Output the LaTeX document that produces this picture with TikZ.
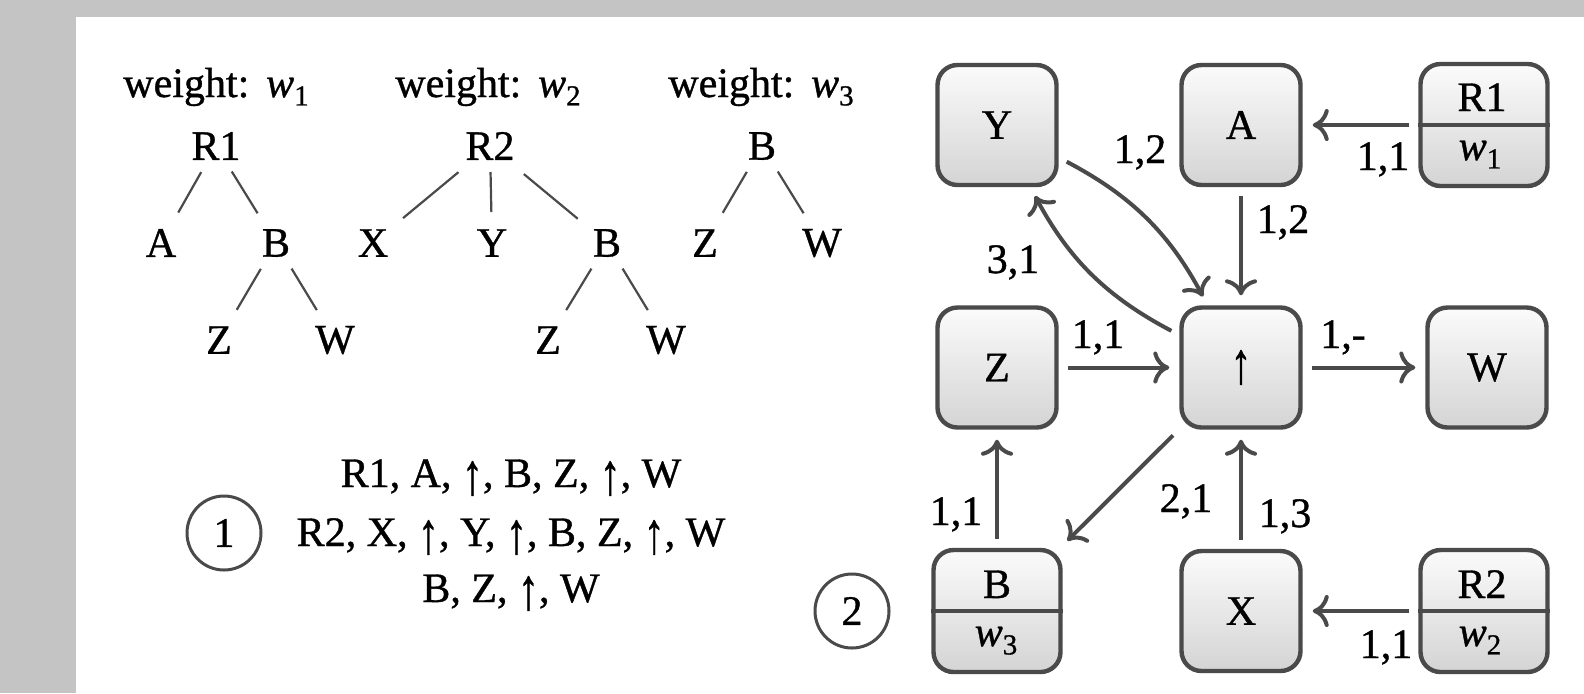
\documentclass[tikz,border=0pt]{standalone}
\usepackage{fontspec}
\setmainfont{Liberation Serif}[FakeBold=0.9]
\usetikzlibrary{arrows.meta}
\definecolor{bggray}{HTML}{C3C4C3}
\definecolor{ink}{HTML}{4A4A4A}
\definecolor{boxtop}{HTML}{FBFBFB}
\definecolor{boxbot}{HTML}{D4D4D4}
\newcommand\wsub[1]{\textit{w}\raisebox{-0.2em}{\fontsize{14.5}{14.5}\selectfont #1}}
\newcommand\upa{\raisebox{-0.17em}{\scalebox{1}[1.4]{↑}}}
\begin{document}
\begin{tikzpicture}[x=0.5pt,y=-0.5pt,font=\fontsize{21}{25}\selectfont,
  tlab/.style={inner sep=0pt},
  tline/.style={draw=ink,line width=1.1pt,shorten <=15pt,shorten >=17.5pt},
  box/.style={draw=ink,line width=2.2pt,rounded corners=10pt,minimum width=59.5pt,minimum height=60pt,top color=boxtop,bottom color=boxbot,inner sep=0pt},
  sbox/.style={box,minimum width=63.5pt,minimum height=61pt},
  divider/.style={draw=ink,line width=2.2pt},
  edge/.style={draw=ink,line width=2pt,-{To[length=8pt,width=16pt]},shorten <=4.5pt,shorten >=5pt},
  elab/.style={anchor=base,inner sep=0pt},
  ring/.style={circle,draw=ink,line width=1.5pt,minimum size=37pt,inner sep=0pt}]
\useasboundingbox (0,0) rectangle (1584,693);
\fill[bggray] (0,0) rectangle (1584,693);
\fill[white] (76,17) rectangle (1584,693);

% ---- trees ----
\node[anchor=base,inner sep=0pt] (wt1) at (216,97) {weight:\hspace{0.4em}\wsub{1}};
\node[anchor=base,inner sep=0pt] (wt2) at (488,97) {weight:\hspace{0.4em}\wsub{2}};
\node[anchor=base,inner sep=0pt] (wt3) at (761,97) {weight:\hspace{0.4em}\wsub{3}};

\node[tlab] (a1) at (216,146) {R1};
\node[tlab] (a2) at (161,243) {A};
\node[tlab] (a3) at (276,243) {B};
\node[tlab] (a4) at (219,340) {Z};
\node[tlab] (a5) at (335,340) {W};
\draw[tline] (a1.center) -- (a2.center);
\draw[tline] (a1.center) -- (a3.center);
\draw[tline] (a3.center) -- (a4.center);
\draw[tline] (a3.center) -- (a5.center);

\node[tlab] (b1) at (490,146) {R2};
\node[tlab] (b2) at (373,243) {X};
\node[tlab] (b3) at (492,243) {Y};
\node[tlab] (b4) at (607,243) {B};
\node[tlab] (b5) at (548,340) {Z};
\node[tlab] (b6) at (666,340) {W};
\draw[tline,shorten <=20.5pt,shorten >=19.5pt] (b1.center) -- (b2.center);
\draw[tline,shorten <=13pt,shorten >=15.5pt] (b1.center) -- (b3.center);
\draw[tline,shorten <=22pt,shorten >=19pt] (b1.center) -- (b4.center);
\draw[tline] (b4.center) -- (b5.center);
\draw[tline] (b4.center) -- (b6.center);

\node[tlab] (c1) at (762,146) {B};
\node[tlab] (c2) at (705,243) {Z};
\node[tlab] (c3) at (822,243) {W};
\draw[tline] (c1.center) -- (c2.center);
\draw[tline] (c1.center) -- (c3.center);

% ---- sequences ----
\node[ring] (one) at (224,533) {1};
\node[anchor=base,inner sep=0pt] (s1) at (511,487) {R1, A, \upa, B, Z, \upa, W};
\node[anchor=base,inner sep=0pt] (s2) at (511,546) {R2, X, \upa, Y, \upa, B, Z, \upa, W};
\node[anchor=base,inner sep=0pt] (s3) at (511,602) {B, Z, \upa, W};

% ---- graph ----
\node[ring] (two) at (852,611) {2};
\node[box] (Y) at (997,125) {Y};
\node[box] (A) at (1241,125) {A};
\node[sbox] (R1) at (1484,125) {};
\draw[divider] (R1.west) -- (R1.east);
\node[anchor=base,inner sep=0pt] (R1t) at (1482,111) {R1};
\node[anchor=base,inner sep=0pt] (R1w) at (1480,160) {\wsub{1}};

\node[box] (Z) at (997,367.5) {Z};
\node[box] (T) at (1241,367.5) {\upa};
\node[box] (W) at (1487,367.5) {W};

\node[sbox] (B) at (997,611) {};
\draw[divider] (B.west) -- (B.east);
\node[anchor=base,inner sep=0pt] (Bt) at (997,598) {B};
\node[anchor=base,inner sep=0pt] (Bw) at (996,646) {\wsub{3}};
\node[box] (X) at (1241,611) {X};
\node[sbox] (R2) at (1484,611) {};
\draw[divider] (R2.west) -- (R2.east);
\node[anchor=base,inner sep=0pt] (R2t) at (1482,598) {R2};
\node[anchor=base,inner sep=0pt] (R2w) at (1480,646) {\wsub{2}};

\draw[edge] (R1) -- (A);
\draw[edge] (A) -- (T);
\draw[edge] (Y) to[bend left=17] (T);
\draw[edge] (T) to[bend left=17] (Y);
\draw[edge] (Z) -- (T);
\draw[edge] (T) -- (W);
\draw[edge] (T) -- (B);
\draw[edge] (B) -- (Z);
\draw[edge] (X) -- (T);
\draw[edge] (R2) -- (X);

\node[elab] (l1) at (1383,170) {1,1};
\node[elab] (l2) at (1140,163) {1,2};
\node[elab] (l3) at (1283,233) {1,2};
\node[elab] (l4) at (1013,273) {3,1};
\node[elab] (l5) at (1098,348) {1,1};
\node[elab] (l6) at (1343,348) {1,-};
\node[elab] (l7) at (1186,512) {2,1};
\node[elab] (l8) at (956,525) {1,1};
\node[elab] (l9) at (1285,527) {1,3};
\node[elab] (l10) at (1386,658) {1,1};
\end{tikzpicture}
\end{document}
